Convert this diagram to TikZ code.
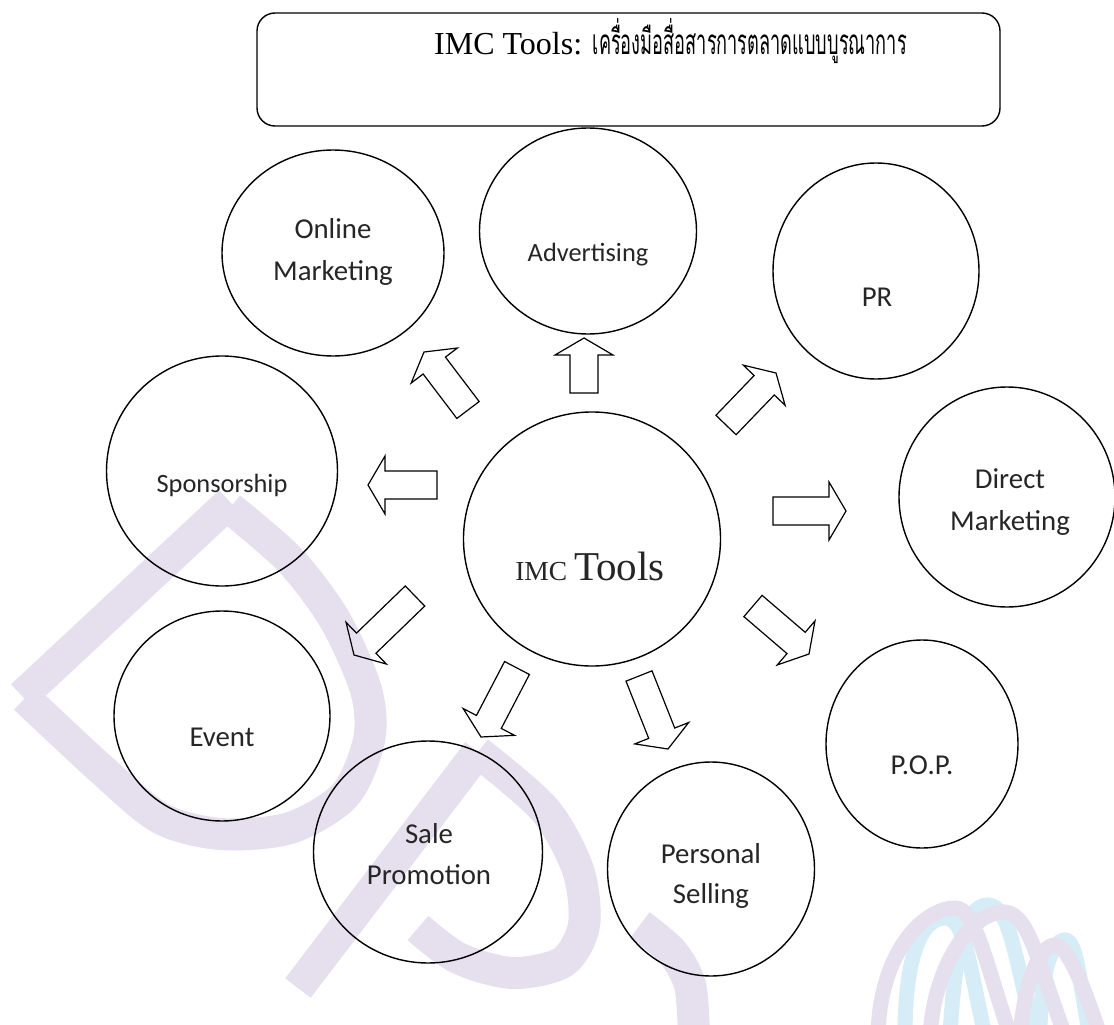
\documentclass[tikz,border=0pt]{standalone}
\usepackage{fontspec}
\usepackage{graphicx}
\usetikzlibrary{shapes.geometric,calc}
\setmainfont{Liberation Serif}
\newfontfamily\calib{Carlito}
\newfontfamily\thaifont[Script=Thai]{Loma}
\definecolor{wmp}{RGB}{229,223,238}
\definecolor{wmb}{RGB}{214,237,247}
\definecolor{txt}{RGB}{38,38,38}
\newcommand\blockarrow[2]{%
  \coordinate (#1b) at ($(#2)!17pt!(#1)$);
  \draw[blk] ($(#1)!14pt!90:(#2)$) -- ($(#1b)!14pt!90:(#2)$) -- ($(#1b)!29pt!90:(#2)$) -- (#2)
    -- ($(#1b)!29pt!-90:(#2)$) -- ($(#1b)!14pt!-90:(#2)$) -- ($(#1)!14pt!-90:(#2)$) -- cycle;}
\begin{document}
\begin{tikzpicture}[x=1pt,y=-1pt,
  circ/.style={ellipse, draw=black, line width=1.4pt, inner sep=0pt},
  lbl/.style={font=\calib\fontsize{28.8}{34}\selectfont, text=txt, anchor=base, inner sep=0pt},
  lbls/.style={lbl, font=\calib\fontsize{26.4}{32}\selectfont},
  blk/.style={draw=black, line width=1.2pt, line join=miter},
  wm/.style={draw=wmp, line width=32pt},
  wmthin/.style={draw=wmp, line width=15pt},
  wmblue/.style={draw=wmb, line width=15pt},
  titlebox/.style={draw=black, line width=1.4pt, rounded corners=18pt}]
\useasboundingbox (0,0) rectangle (1114,1025);
\fill[white] (0,0) rectangle (1114,1025);
% watermark
\draw[wm] (22,696) -- (230,502);
\draw[wm] plot[smooth] coordinates {(230,508) (290,560) (335,620) (366,690) (369,740) (345,795) (290,828) (221,834) (160,818) (100,768) (25,698)};
\draw[wm] (298,988) -- (478,752);
\draw[wm] plot[smooth] coordinates {(478,752) (545,810) (578,870) (584,925) (563,962) (512,973) (458,958) (418,928)};
\draw[wm] plot[smooth] coordinates {(640,925) (672,952) (690,985) (694,1035)};
\draw[wmblue] (905,1035) .. controls (905,960) and (920,918) .. (945,918) .. controls (965,918) and (968,960) .. (985,1035);
\draw[wmblue] (950,1035) .. controls (955,950) and (965,905) .. (988,905) .. controls (1010,905) and (1015,960) .. (1035,1035);
\draw[wmblue] (1040,1035) .. controls (1040,980) and (1050,940) .. (1065,940) .. controls (1078,940) and (1080,990) .. (1090,1035);
\draw[wmthin] (878,1035) .. controls (880,950) and (925,908) .. (955,908) .. controls (975,908) and (985,960) .. (1010,1035);
\draw[wmthin] (930,1035) .. controls (935,960) and (975,910) .. (1005,912) .. controls (1030,914) and (1040,970) .. (1065,1035);
\draw[wmthin] (1020,1035) .. controls (1025,980) and (1040,945) .. (1055,945) .. controls (1068,945) and (1085,990) .. (1100,1035);
% title
\draw[titlebox] (257,13) rectangle (1000,126);
\node[anchor=base west, inner sep=0pt] (title) at (434,55)
  {\fontsize{32}{38}\selectfont IMC Tools: \resizebox{314pt}{\height}{\thaifont\fontsize{35}{42}\selectfont เครื่องมือสื่อสารการตลาดแบบบูรณาการ}};
% circles
\node[circ, minimum width=222pt, minimum height=206pt] (online) at (333,253) {};
\node[circ, minimum width=217pt, minimum height=206pt] (adv) at (588,231) {};
\node[circ, minimum width=206pt, minimum height=216pt] (pr) at (876,271) {};
\node[circ, minimum width=216pt, minimum height=220pt] (dm) at (1007,497) {};
\node[circ, minimum width=231pt, minimum height=230pt] (sp) at (222,471) {};
\node[circ, minimum width=257pt, minimum height=254pt] (imc) at (592,539) {};
\node[circ, minimum width=216pt, minimum height=210pt] (ev) at (222,716) {};
\node[circ, minimum width=229pt, minimum height=222pt] (sale) at (428,852) {};
\node[circ, minimum width=207pt, minimum height=214pt] (ps) at (711,869) {};
\node[circ, minimum width=192pt, minimum height=208pt] (pop) at (922,744) {};
% labels
\node[lbl] (online1) at (333,238) {Online};
\node[lbl] (online2) at (333,280) {Marketing};
\node[lbls] (advl) at (588,261) {Advertising};
\node[lbl] (prl) at (877,306) {PR};
\node[lbl] (dm1) at (1010,488) {Direct};
\node[lbl] (dm2) at (1010,530) {Marketing};
\node[lbls] (spl) at (222,492) {Sponsorship};
\node[anchor=base, inner sep=0pt, text=txt] (imcl) at (590,580) {\fontsize{27.5}{30}\selectfont IMC \fontsize{41}{44}\selectfont Tools};
\node[lbl] (evl) at (222,746) {Event};
\node[lbl] (sale1) at (429,843) {Sale};
\node[lbl] (sale2) at (429,884) {Promotion};
\node[lbl] (ps1) at (711,863) {Personal};
\node[lbl] (ps2) at (711,903) {Selling};
\node[lbl] (popl) at (922,774) {P.O.P.};
% arrows
\coordinate (a1) at (468,410); \coordinate (a1h) at (424,352);
\coordinate (a2) at (584,393); \coordinate (a2h) at (584,338);
\coordinate (a3) at (726,425); \coordinate (a3h) at (776,373);
\coordinate (a4) at (437,485); \coordinate (a4h) at (368,485);
\coordinate (a5) at (773,511); \coordinate (a5h) at (846,511);
\coordinate (a6) at (415,596); \coordinate (a6h) at (354,655);
\coordinate (a7) at (517,668); \coordinate (a7h) at (481,737);
\coordinate (a8) at (639,676); \coordinate (a8h) at (668,749);
\coordinate (a9) at (753,606); \coordinate (a9h) at (809,654);
\blockarrow{a1}{a1h}
\blockarrow{a2}{a2h}
\blockarrow{a3}{a3h}
\blockarrow{a4}{a4h}
\blockarrow{a5}{a5h}
\blockarrow{a6}{a6h}
\blockarrow{a7}{a7h}
\blockarrow{a8}{a8h}
\blockarrow{a9}{a9h}
\end{tikzpicture}
\end{document}
